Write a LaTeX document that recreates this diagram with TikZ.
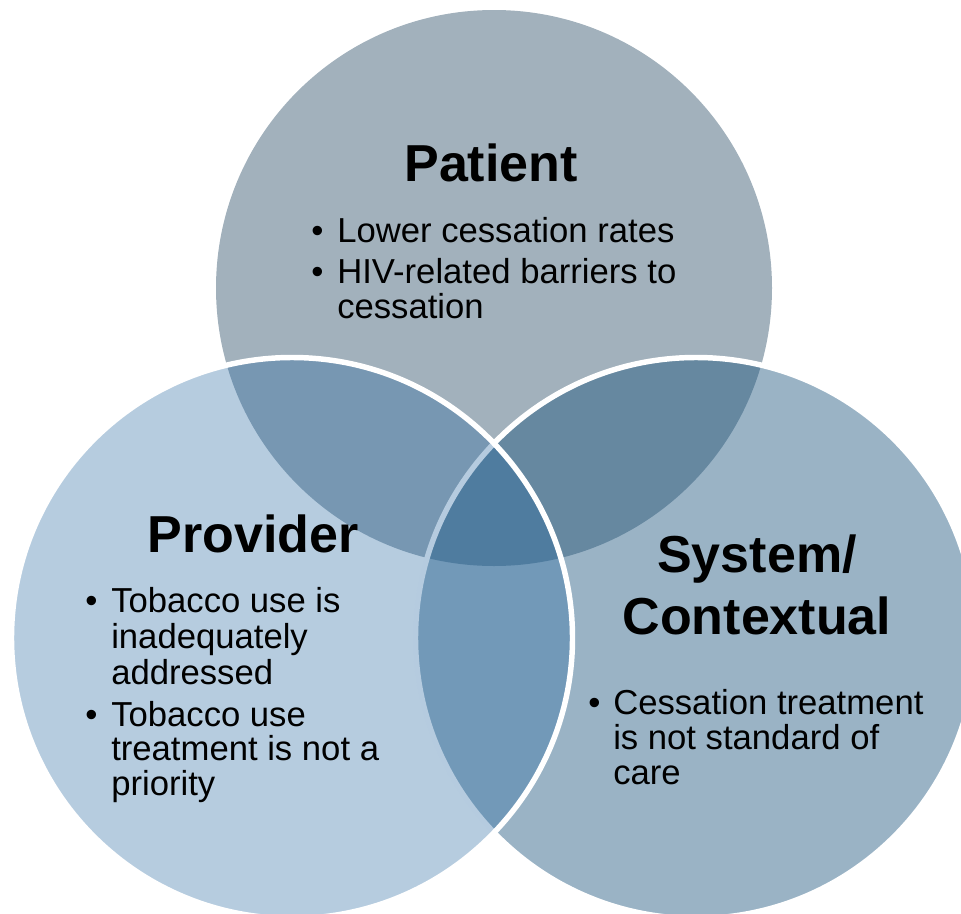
\documentclass[tikz,border=0pt]{standalone}
\usepackage{fontspec}
\setmainfont{Liberation Sans}
\definecolor{topc}{RGB}{162,177,188}
\definecolor{rightc}{RGB}{31,87,127}
\definecolor{leftc}{RGB}{33,100,158}
\begin{document}
\begin{tikzpicture}[x=0.75pt,y=-0.75pt,
  titletext/.style={font=\fontsize{39}{46.8}\selectfont\bfseries, inner sep=0, anchor=base},
  bodytext/.style={font=\fontsize{26}{28}\selectfont, inner sep=0, anchor=base west},
  bulletmark/.style={font=\fontsize{26}{28}\selectfont, inner sep=0, anchor=base west},
  outlined/.style={draw=white, line width=4.1pt}]
\useasboundingbox (0,0) rectangle (961,914);
\clip (0,0) rectangle (961,914);
\coordinate (ctop) at (494,288);
\coordinate (cleft) at (292,638);
\coordinate (cright) at (696,638);
% circles
\fill[topc] (ctop) circle[radius=278];
\path[outlined, fill=rightc, fill opacity=0.45] (cright) circle[radius=280.5];
\path[outlined, fill=leftc, fill opacity=0.33] (cleft) circle[radius=280.5];
% Patient
\node[titletext] (tpatient) at (491,181) {Patient};
\node[bulletmark] (bp1) at (311,242) {•};
\node[bodytext] (p1) at (337,242) {Lower cessation rates};
\node[bulletmark] (bp2) at (311,283) {•};
\node[bodytext] (p2a) at (337,283) {HIV-related barriers to};
\node[bodytext] (p2b) at (337,318) {cessation};
% Provider
\node[titletext] (tprovider) at (253,552) {Provider};
\node[bulletmark] (bv1) at (85,612) {•};
\node[bodytext] (v1a) at (111,612) {Tobacco use is};
\node[bodytext] (v1b) at (111,648) {inadequately};
\node[bodytext] (v1c) at (111,684) {addressed};
\node[bulletmark] (bv2) at (85,726) {•};
\node[bodytext] (v2a) at (111,726) {Tobacco use};
\node[bodytext] (v2b) at (111,760) {treatment is not a};
\node[bodytext] (v2c) at (111,795) {priority};
% System
\node[titletext] (tsystem) at (757,572) {System/};
\node[titletext] (tcontext) at (757,634) {Contextual};
\node[bulletmark] (bs1) at (588,714) {•};
\node[bodytext] (s1a) at (613,714) {Cessation treatment};
\node[bodytext] (s1b) at (613,749) {is not standard of};
\node[bodytext] (s1c) at (613,784) {care};
\end{tikzpicture}
\end{document}
